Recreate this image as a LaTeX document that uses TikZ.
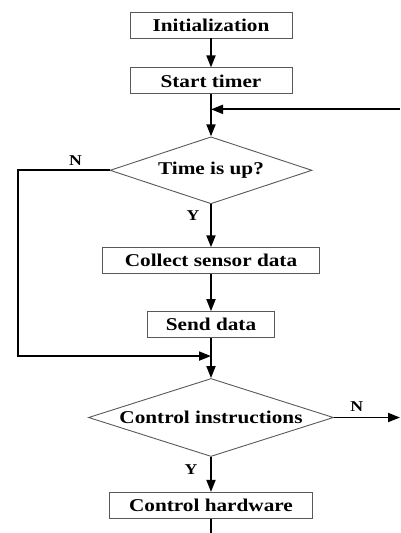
\documentclass[tikz,border=0pt]{standalone}
\usepackage{fontspec}
\setmainfont{Liberation Serif}[FakeStretch=1.18]
\usetikzlibrary{positioning}
\usetikzlibrary{shapes.geometric}
\usetikzlibrary{arrows.meta}

\begin{document}
\begin{tikzpicture}[x=1pt, y=1pt,
        procbox/.style={draw=black!65, line width=0.9pt, minimum height=26pt, inner sep=0pt, font=\fontsize{18}{20}\selectfont\bfseries},
        decision/.style={diamond, draw=black!65, line width=0.9pt, inner sep=0pt, font=\fontsize{18}{20}\selectfont\bfseries},
        flow/.style={line width=1.8pt, -{Triangle[length=12pt,width=9pt]}},
        answer/.style={font=\fontsize{15}{17}\selectfont\bfseries}]
        \useasboundingbox (0,0) rectangle (400,-533);
        % frame edges
        \coordinate (edgeL) at (18,0);
        \coordinate (edgeR) at (400,0);
        \coordinate (edgeB) at (0,-533);

        % nodes
        \node[procbox, minimum width=162pt] (init) at (211,-25) {Initialization};
        \node[procbox, minimum width=162pt, below=29pt of init] (timer) {Start timer};
        \node[decision, aspect=3, minimum width=202pt, minimum height=67pt, below=42pt of timer] (timeup) {Time is up?};
        \node[procbox, minimum width=217pt, below=43pt of timeup] (collect) {Collect sensor data};
        \node[procbox, minimum width=127pt, below=37pt of collect] (send) {Send data};
        \node[decision, aspect=3.14, minimum width=245pt, minimum height=78pt, below=40pt of send] (ctrl) {Control instructions};
        \node[procbox, minimum width=203pt, below=35pt of ctrl] (hw) {Control hardware};
        \coordinate[below=15pt of timer] (join);
        \coordinate[below=18pt of send] (merge);

        % labels
        \node[answer, above left=1pt and 24pt of timeup.west] (n1) {N};
        \node[answer, below left=3pt and 8pt of timeup.south] (y1) {Y};
        \node[answer, above right=2pt and 13pt of ctrl.east] (n2) {N};
        \node[answer, below left=4pt and 10pt of ctrl.south] (y2) {Y};

        % edges
        \draw[flow] (init) -- (timer);
        \draw[flow] (timer) -- (timeup);
        \draw[flow] (join -| edgeR) -- (join);
        \draw[flow] (timeup) -- (collect);
        \draw[flow] (collect) -- (send);
        \draw[flow] (send) -- (ctrl);
        \draw[flow] (timeup.west) -- (timeup.west -| edgeL) -- (merge -| edgeL) -- (merge);
        \draw[flow] (ctrl.east) -- (ctrl.east -| edgeR);
        \draw[flow] (ctrl) -- (hw);
        \draw[line width=1.8pt] (hw) -- (hw.south |- edgeB);
    \end{tikzpicture}
\end{document}
